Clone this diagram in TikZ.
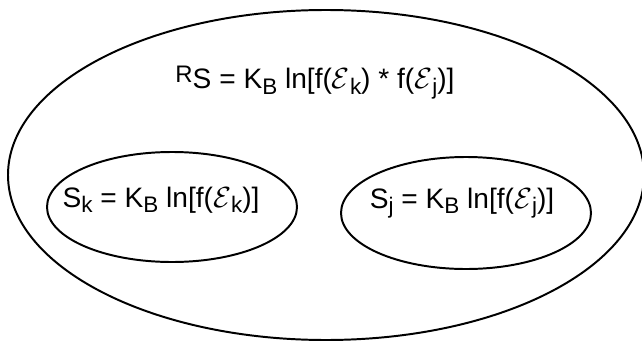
\documentclass[tikz,border=0pt]{standalone}
\usepackage{fontspec}
\setmainfont{Liberation Sans}
\usepackage{tikz}
\usetikzlibrary{positioning}

% lowered / raised small letters
\newcommand{\lowr}[1]{\raisebox{-0.35ex}{\fontsize{16}{16}\selectfont #1}}
\newcommand{\highr}[1]{\raisebox{0.45ex}{\fontsize{17}{17}\selectfont #1}}
\newcommand{\eps}{\(\mathcal{E}\)}

\tikzset{
  blob/.style={line width=1.4pt},
  formula/.style={font=\fontsize{20}{24}\selectfont, anchor=base, inner sep=0pt}
}

\begin{document}
\begin{tikzpicture}[x=0.025cm, y=-0.025cm]
            \useasboundingbox (0,0) rectangle (642,341);

            % Outer set
            \draw[blob] (326,175) ellipse [x radius=318, y radius=165];
            \node[formula] (rs) at (315,89)
              {\highr{R}S = K\lowr{B} ln[f(\eps\lowr{k}) * f(\eps\lowr{j})]};

            % Inner sets
            \draw[blob] (172,207) ellipse [x radius=125, y radius=55];
            \draw[blob] (466,213) ellipse [x radius=125, y radius=56];
            \node[formula] (sk) at (161,207) {S\lowr{k} = K\lowr{B} ln[f(\eps\lowr{k})]};
            \node[formula] (sj) at (462,208) {S\lowr{j} = K\lowr{B} ln[f(\eps\lowr{j})]};

        \end{tikzpicture}
\end{document}
